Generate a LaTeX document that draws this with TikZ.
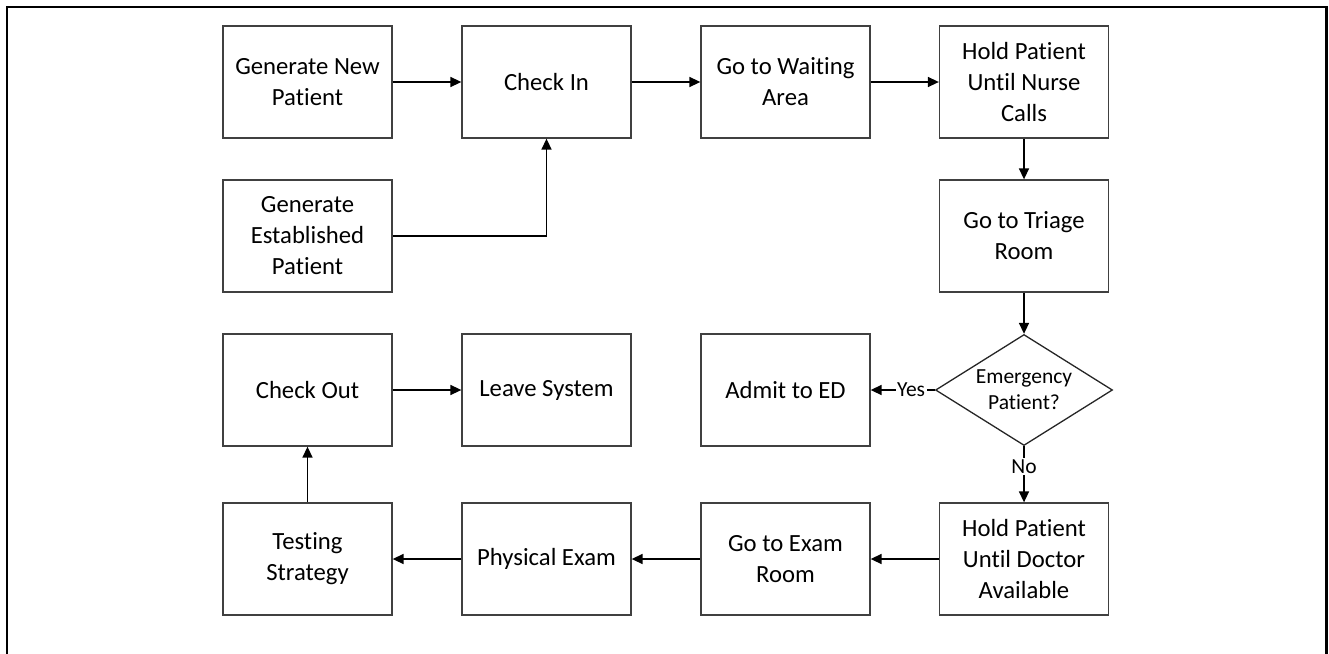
\documentclass[tikz,border=0pt]{standalone}
\usepackage{fontspec}
\setmainfont[RawFeature={-liga;-clig;-calt;-dlig}]{Carlito}
\usetikzlibrary{shapes.geometric,arrows.meta}
\begin{document}
\begin{tikzpicture}[x=1pt,y=-1pt,
  box/.style={draw=black!75,line width=1.3pt,minimum width=169pt,minimum height=112pt,inner sep=0pt,align=center,font=\fontsize{24.7}{31}\selectfont},
  decide/.style={draw=black!85,line width=1.3pt,shape=diamond,aspect=1.6,minimum width=177pt,minimum height=111pt,inner sep=0pt,align=center,font=\fontsize{21.5}{26}\selectfont},
  conn/.style={line width=1.5pt,-{Triangle[length=11pt,width=10pt]}},
  lbl/.style={fill=white,inner sep=1.5pt,font=\fontsize{21.5}{26}\selectfont}]
\useasboundingbox (0,0) rectangle (1329,653);
\draw[line width=2.2pt] (7,690) -- (7,7) -- (1326.5,7) -- (1326.5,690);
% row 1
\node[box] (gnew) at (307.5,82) {Generate New\\Patient};
\node[box] (checkin) at (546.5,82) {Check In};
\node[box] (wait) at (785.5,82) {Go to Waiting\\Area};
\node[box] (holdn) at (1024,82) {Hold Patient\\Unt\kern0pt il Nurse\\Calls};
% row 2
\node[box] (gest) at (307.5,236) {Generate\\Established\\Patient};
\node[box] (triage) at (1024,236) {Go to Triage\\Room};
% row 3
\node[box] (checkout) at (307.5,390) {Check Out};
\node[box] (leave) at (546.5,390) {Leave System};
\node[box] (admit) at (785.5,390) {Admit to ED};
\node[decide] (emerg) at (1024,390) {Emergency\\Patient?};
% row 4
\node[box] (testing) at (307.5,559) {Testing\\Strategy};
\node[box] (phys) at (546.5,559) {Physical Exam};
\node[box] (examroom) at (785.5,559) {Go to Exam\\Room};
\node[box] (holdd) at (1024,559) {Hold Patient\\Unt\kern0pt il Doctor\\Available};
% connectors
\draw[conn] (gnew) -- (checkin);
\draw[conn] (checkin) -- (wait);
\draw[conn] (wait) -- (holdn);
\draw[conn] (holdn) -- (triage);
\draw[conn] (gest.east) -| (checkin.south);
\draw[conn] (triage) -- (emerg);
\draw[conn] (emerg.west) -- node[lbl,pos=0.37]{Yes} (admit.east);
\draw[conn] (emerg.south) -- node[lbl,pos=0.36]{No} (holdd.north);
\draw[conn] (holdd) -- (examroom);
\draw[conn] (examroom) -- (phys);
\draw[conn] (phys) -- (testing);
\draw[conn] (testing) -- (checkout);
\draw[conn] (checkout) -- (leave);
\end{tikzpicture}
\end{document}
